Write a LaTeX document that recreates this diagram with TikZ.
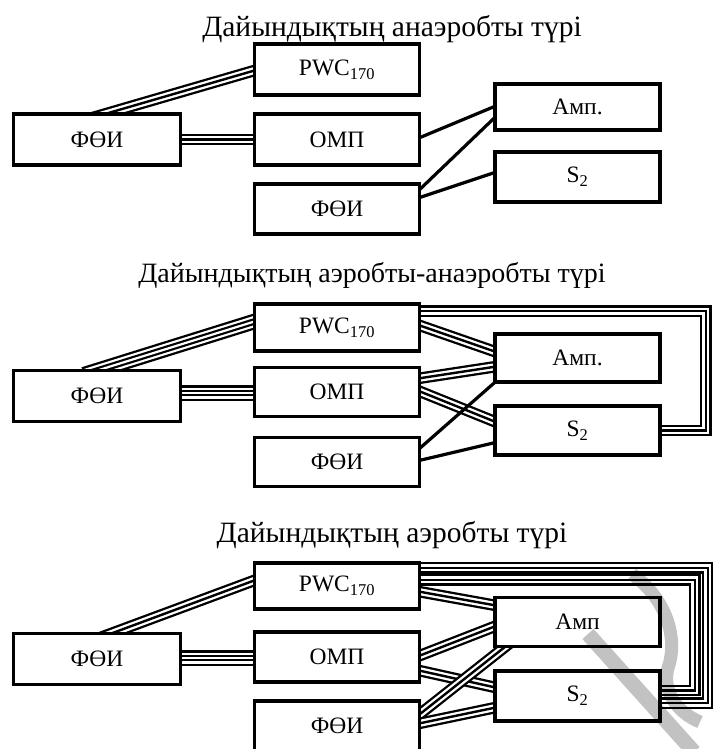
\documentclass[tikz,border=0pt]{standalone}
\usepackage{fontspec}
\setmainfont{Liberation Serif}
\usetikzlibrary{calc}
\pgfdeclarelayer{bg}
\pgfdeclarelayer{fg}
\pgfsetlayers{bg,main,fg}
\tikzset{
  box/.style={draw, line width=3.5pt, fill=white, minimum width=165pt, inner sep=0pt,
    font=\fontsize{23.5}{26}\selectfont},
  ttl/.style={anchor=base, inner sep=0pt, font=\fontsize{29.5}{32}\selectfont},
  one/.style={draw=black, line width=3.2pt},
  tri/.style={draw=black, line width=2.4pt,
    preaction={draw=black, line width=11.6pt},
    preaction={draw=white, line width=7pt}},
  quad/.style={draw=white, line width=2.2pt,
    preaction={draw=black, line width=15.6pt},
    preaction={draw=white, line width=11pt},
    preaction={draw=black, line width=6.6pt}},
  wmark/.style={draw=black!24, line cap=butt, blend mode=multiply},
}
\newcommand\wire[3]{\draw[#1] ($(#2)!-20pt!(#3)$) -- ($(#3)!-20pt!(#2)$);}
\begin{document}
\begin{tikzpicture}[x=1pt, y=-1pt]
\useasboundingbox (0,0) rectangle (712,749);
\clip (0,0) rectangle (712,749);

% ---------- section 1 ----------
\node[ttl] (t1) at (392,37) {Дайындықтың анаэробты түрі};
\node[box, minimum height=51pt] (pwc1) at (337,69.5) {PWC\textsubscript{170}};
\node[box, minimum width=167pt, minimum height=51pt] (fl1) at (97,139.5) {ФӨИ};
\node[box, minimum height=51pt] (omp1) at (337,139.5) {ОМП};
\node[box, minimum height=50pt] (fb1) at (337,209) {ФӨИ};
\node[box, minimum height=46pt] (amp1) at (577.5,107) {Амп.};
\node[box, minimum height=50pt] (s21) at (577.5,177) {S\textsubscript{2}};

% ---------- section 2 ----------
\node[ttl, font=\fontsize{28}{31}\selectfont] (t2) at (372,282) {Дайындықтың аэробты-анаэробты түрі};
\node[box, minimum height=47pt] (pwc2) at (337,327.5) {PWC\textsubscript{170}};
\node[box, minimum width=167pt, minimum height=51pt] (fl2) at (97,396) {ФӨИ};
\node[box, minimum height=49pt] (omp2) at (337,392) {ОМП};
\node[box, minimum height=49pt] (fb2) at (337,462) {ФӨИ};
\node[box, minimum height=48pt] (amp2) at (577.5,358) {Амп.};
\node[box, minimum height=49pt] (s22) at (577.5,430.5) {S\textsubscript{2}};

% ---------- section 3 ----------
\node[ttl] (t3) at (392,542) {Дайындықтың аэробты түрі};
\node[box, minimum height=46pt] (pwc3) at (337,586) {PWC\textsubscript{170}};
\node[box, minimum width=167pt, minimum height=51pt] (fl3) at (97,659) {ФӨИ};
\node[box, minimum height=50pt] (omp3) at (337,657) {ОМП};
\node[box, minimum height=50pt] (fb3) at (337,726) {ФӨИ};
\node[box, minimum height=49pt] (amp3) at (577.5,622) {Амп};
\node[box, minimum height=50pt] (s23) at (577.5,696) {S\textsubscript{2}};

\begin{pgfonlayer}{bg}
% section 1
\coordinate (a1) at ($(fl1.north)+(14,0)$);
\coordinate (b1) at ($(pwc1.west)+(0,1.5)$);
\wire{tri}{a1}{b1}
\wire{tri}{fl1.east}{omp1.west}
\coordinate (c1) at ($(omp1.east)+(0,-2.5)$);
\wire{one}{c1}{amp1.west}
\coordinate (d1) at ($(fb1.east)+(0,-21)$);
\coordinate (e1) at ($(amp1.west)+(0,12)$);
\wire{one}{d1}{e1}
\coordinate (f1) at ($(fb1.east)+(0,-12)$);
\coordinate (g1) at ($(s21.west)+(0,-4)$);
\wire{one}{f1}{g1}

% section 2
\coordinate (a2) at ($(fl2.north)+(6,0)$);
\coordinate (b2) at ($(pwc2.west)+(0,-5.5)$);
\wire{quad}{a2}{b2}
\coordinate (h2) at ($(fl2.east)+(0,-3)$);
\coordinate (i2) at ($(omp2.west)+(0,1)$);
\wire{quad}{h2}{i2}
\coordinate (c2) at ($(pwc2.east)+(0,-1.5)$);
\coordinate (d2) at ($(amp2.west)+(0,-7)$);
\wire{tri}{c2}{d2}
\coordinate (e2) at ($(omp2.east)+(0,-14)$);
\coordinate (f2) at ($(amp2.west)+(0,9)$);
\wire{tri}{e2}{f2}
\coordinate (g2) at ($(s22.west)+(0,-9.5)$);
\wire{tri}{omp2.east}{g2}
\coordinate (j2) at ($(fb2.east)+(0,-15)$);
\wire{one}{j2}{amp2.south west}
\coordinate (k2) at ($(fb2.east)+(0,-2)$);
\coordinate (l2) at ($(s22.west)+(0,12.5)$);
\wire{one}{k2}{l2}
\draw[tri] ($(pwc2.north east)+(-6,9)$) -| ($(s22.east)+(44,0)$) -- ($(s22.east)+(-6,0)$);

% section 3
\coordinate (a3) at ($(fl3.north)+(19,0)$);
\coordinate (b3) at ($(pwc3.west)+(0,-5)$);
\wire{tri}{a3}{b3}
\coordinate (h3) at ($(fl3.east)+(0,-1)$);
\coordinate (i3) at ($(omp3.west)+(0,1)$);
\wire{quad}{h3}{i3}
\coordinate (c3) at ($(pwc3.east)+(0,6)$);
\coordinate (d3) at ($(amp3.west)+(0,-17)$);
\wire{tri}{c3}{d3}
\coordinate (e3) at ($(omp3.east)+(0,-2)$);
\coordinate (f3) at ($(amp3.west)+(0,5)$);
\wire{tri}{e3}{f3}
\coordinate (g3) at ($(omp3.east)+(0,14)$);
\coordinate (m3) at ($(s23.west)+(0,-9)$);
\wire{tri}{g3}{m3}
\coordinate (j3) at ($(fb3.east)+(0,-13)$);
\coordinate (n3) at ($(amp3.south west)+(10,0)$);
\wire{tri}{j3}{n3}
\coordinate (k3) at ($(fb3.east)+(0,-3)$);
\coordinate (l3) at ($(s23.west)+(0,12)$);
\wire{tri}{k3}{l3}
\draw[tri] ($(pwc3.north east)+(-6,6.5)$) -| ($(s23.east)+(46,7)$) -- ($(s23.east)+(-6,7)$);
\draw[tri] ($(pwc3.north east)+(-6,18.5)$) -| ($(s23.east)+(33,-5.5)$) -- ($(s23.east)+(-6,-5.5)$);
\end{pgfonlayer}

% light grey watermark strokes
\begin{pgfonlayer}{fg}
\draw[wmark, line width=15pt] (588,634) -- (694,752);
\draw[wmark, line width=13pt] (632,574) .. controls (668,600) and (678,640) .. (668,668)
  .. controls (662,690) and (676,712) .. (700,722);
\end{pgfonlayer}
\end{tikzpicture}
\end{document}
